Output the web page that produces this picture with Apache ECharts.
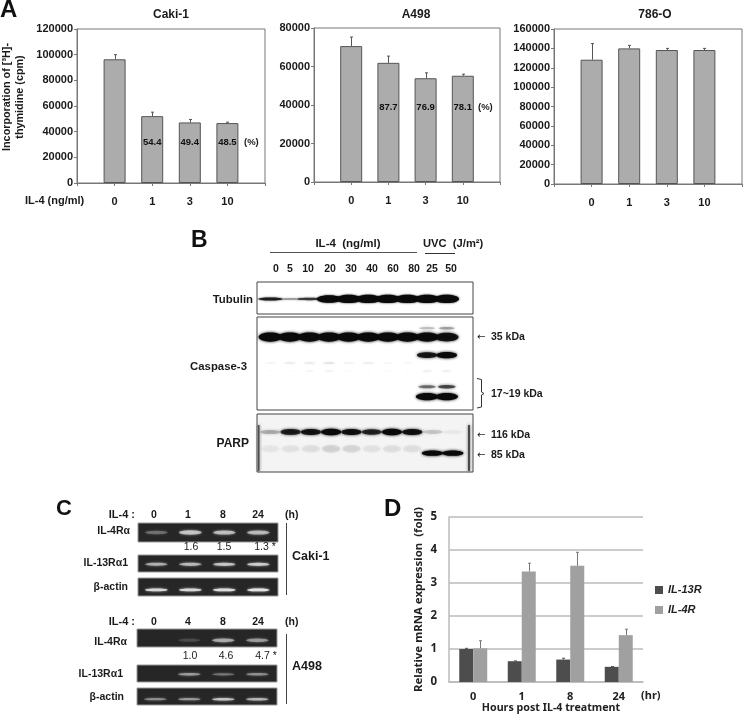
<!DOCTYPE html>
<html><head><meta charset="utf-8">
<style>html,body{margin:0;padding:0;background:#fff}#c{width:745px;height:715px}</style>
<script src="https://cdn.jsdelivr.net/npm/echarts@6/dist/echarts.min.js"></script>
</head><body><div id="c"></div>
<script>
// ---------- Panel A data ----------
const doseLabels = ['', '0', '1', '3', '10', ''];
const cakiValues = [96400, 52100, 47200, 46700];
const cakiErrTop = [100000, 55200, 49500, 47400];
const cakiPercent = ['', '54.4', '49.4', '48.5'];
const a498Values = [70600, 61900, 53900, 55200];
const a498ErrTop = [75300, 65400, 56700, 56000];
const a498Percent = ['', '87.7', '76.9', '78.1'];
const o786Values = [128300, 140000, 138300, 138300];
const o786ErrTop = [144900, 143100, 140000, 140000];
// ---------- Panel D data ----------
const hourLabels = ['0', '1', '8', '24'];
const il13rValues = [1.0, 0.63, 0.68, 0.46];
const il13rErrTop = [1.02, 0.64, 0.72, 0.47];
const il4rValues = [1.02, 3.35, 3.52, 1.42];
const il4rErrTop = [1.25, 3.6, 3.93, 1.6];
// ---------- Panel B band intensities per lane ----------
const tubulinMain = [.5, .22, .4, .95, 1, 1, 1, 1, 1, 1];
const casp35 = [1, 1, 1, 1, 1, 1, 1, 1, .95, .9];
const caspUpper = [0, 0, 0, 0, 0, 0, 0, 0, .18, .28];
const caspMid = [0, 0, 0, 0, 0, 0, 0, 0, .85, 1];
const caspFaint1 = [.05, .1, .1, .14, .06, .09, .04, .04, 0, 0];
const caspFaint2 = [.02, .02, .05, .07, .02, .02, .02, .02, .08, .08];
const caspCleaved1 = [0, 0, 0, 0, 0, 0, 0, 0, .45, .6];
const caspCleaved2 = [0, 0, 0, 0, 0, 0, 0, 0, 1, 1];
const parp116 = [.2, .8, .88, 1, .9, .75, 1, .9, .12, .03];
const parpSmear = [.03, .04, .05, .08, .07, .04, .05, .05, 0, 0];
const parp85 = [0, 0, 0, 0, 0, 0, 0, 0, 1, 1];
// ---------- Panel C band intensities per lane ----------
const cakiIL4R = [.25, .65, .6, .58];
const cakiIL13R = [.55, .6, .68, .72];
const cakiActin = [.85, .85, .9, 1];
const a498IL4R = [0, .12, .5, .42];
const a498IL13R = [0, .45, .3, .4];
const a498Actin = [.4, .45, .7, .6];

const FONT = '"Liberation Sans", Arial, sans-serif';
const FONT2 = '"Noto Sans", "Open Sans", sans-serif';
const grids = [], xAxes = [], yAxes = [], series = [], graphics = [];

function text(t, x, y, o) {
  o = o || {};
  graphics.push({
    type: 'text', x, y, silent: true, rotation: o.rotation || 0,
    style: {
      text: t, fill: o.color || '#1a1a1a', font: (o.style || '') + ' ' + (o.weight || 'bold') + ' ' + (o.size || 10.5) + 'px ' + (o.family || FONT),
      textAlign: o.align || 'left', textVerticalAlign: 'middle'
    }
  });
}
function line(points, color, w) {
  graphics.push({ type: 'polyline', silent: true, shape: { points }, style: { stroke: color || '#444', lineWidth: w || 1, fill: null } });
}

function errorSeries(idx, offsetPx, data, color) {
  return {
    type: 'custom', xAxisIndex: idx, yAxisIndex: idx, silent: true, z: 5,
    data, encode: { x: 0, y: [1, 2] },
    renderItem(params, api) {
      const b = api.coord([api.value(0), api.value(1)]);
      const t = api.coord([api.value(0), api.value(2)]);
      const x = Math.round(b[0] + offsetPx) + 0.5;
      const s = { stroke: color, lineWidth: 1, fill: null };
      return { type: 'group', children: [
        { type: 'line', shape: { x1: x, y1: b[1], x2: x, y2: t[1] }, style: s },
        { type: 'line', shape: { x1: x - 1.5, y1: t[1], x2: x + 1.5, y2: t[1] }, style: s }
      ] };
    }
  };
}

function panelA(rect, max, step, values, errTop, percent, pctDist) {
  const i = grids.length;
  grids.push(Object.assign({ show: true, backgroundColor: '#fff', borderColor: '#777', borderWidth: 1 }, rect));
  xAxes.push({
    gridIndex: i, type: 'category', boundaryGap: false, data: doseLabels,
    axisLine: { lineStyle: { color: '#777' } }, axisTick: { show: true, length: 3, inside: false, lineStyle: { color: '#777' }, alignWithLabel: true },
    axisLabel: { interval: 0, margin: 13, color: '#1a1a1a', fontFamily: FONT, fontWeight: 'bold', fontSize: 11 }, splitLine: { show: false }
  });
  yAxes.push({
    gridIndex: i, type: 'value', min: 0, max, interval: step,
    axisLine: { show: true, lineStyle: { color: '#777' } }, axisTick: { show: true, length: 3, lineStyle: { color: '#777' } },
    axisLabel: { margin: 4, color: '#1a1a1a', fontFamily: FONT, fontWeight: 'bold', fontSize: 11, formatter: v => String(v) }, splitLine: { show: false }
  });
  series.push({
    type: 'bar', xAxisIndex: i, yAxisIndex: i, barWidth: 22, silent: true,
    data: values.map((v, k) => ({ value: [k + 1, v] })),
    itemStyle: { color: '#acacac', borderColor: '#555', borderWidth: 1 },
    label: percent ? {
      show: true, position: 'insideBottom', distance: pctDist, color: '#111', fontFamily: FONT, fontWeight: 'bold', fontSize: 9.5,
      formatter: p => percent[p.dataIndex]
    } : { show: false }
  });
  series.push(errorSeries(i, 0, errTop.map((t, k) => [k + 1, values[k], t]), '#555'));
  return i;
}

panelA({ left: 77, top: 29, width: 188, height: 154 }, 120000, 20000, cakiValues, cakiErrTop, cakiPercent, 36);
panelA({ left: 314, top: 28, width: 186, height: 154 }, 80000, 20000, a498Values, a498ErrTop, a498Percent, 70);
panelA({ left: 554, top: 29, width: 190, height: 155 }, 160000, 20000, o786Values, o786ErrTop, null, 0);

// Panel D
(function () {
  const i = grids.length;
  grids.push({ left: 449, top: 517, width: 194, height: 165 });
  xAxes.push({
    gridIndex: i, type: 'category', data: hourLabels,
    axisLine: { lineStyle: { color: '#bbb', width: 1.5 } }, axisTick: { show: false },
    axisLabel: { margin: 9, color: '#222', fontFamily: FONT2, fontWeight: 'bold', fontSize: 11 }
  });
  yAxes.push({
    gridIndex: i, type: 'value', min: 0, max: 5, interval: 1,
    axisLine: { show: true, lineStyle: { color: '#bbb', width: 1.5 } }, axisTick: { show: false },
    axisLabel: { margin: 12, color: '#222', fontFamily: FONT2, fontWeight: 'bold', fontSize: 11.5 },
    splitLine: { lineStyle: { color: '#bbb', width: 1.5 } },
    name: 'Relative mRNA expression  (fold)', nameLocation: 'middle', nameGap: 25, nameRotate: 90,
    nameTextStyle: { color: '#222', fontFamily: FONT2, fontWeight: 'bold', fontSize: 11.4 }
  });
  series.push({ name: 'IL-13R', type: 'bar', xAxisIndex: i, yAxisIndex: i, barWidth: 14, barGap: '0%', data: il13rValues, itemStyle: { color: '#4d4d4d' }, silent: true });
  series.push({ name: 'IL-4R', type: 'bar', xAxisIndex: i, yAxisIndex: i, barWidth: 14, barGap: '0%', data: il4rValues, itemStyle: { color: '#a0a0a0' }, silent: true });
  series.push(errorSeries(i, -7, il13rErrTop.map((t, k) => [k, il13rValues[k], t]), '#555'));
  series.push(errorSeries(i, 7, il4rErrTop.map((t, k) => [k, il4rValues[k], t]), '#777'));
})();

// Blot / gel panels
function blot(rect, bg, border, laneMin, laneMax, rows, bandColor, blur) {
  const i = grids.length;
  grids.push(Object.assign({ show: true, backgroundColor: bg, borderColor: border, borderWidth: 1 }, rect));
  xAxes.push({ gridIndex: i, type: 'value', min: laneMin, max: laneMax, show: false });
  yAxes.push({ gridIndex: i, type: 'value', min: 0, max: 100, inverse: true, show: false });
  rows.forEach(r => {
    series.push({
      type: 'custom', xAxisIndex: i, yAxisIndex: i, silent: true, clip: true, z: 3,
      data: r.lanes.map((v, k) => [k, r.y, v]).filter(d => d[2] > 0),
      encode: { x: 0, y: 1 },
      renderItem(params, api) {
        const p = api.coord([api.value(0), api.value(1)]);
        const s = api.size([r.w, r.h]);
        const v = api.value(2);
        const hh = s[1] * (r.thin ? 0.15 + 0.85 * v * v : (r.flat ? 1 : 0.55 + 0.45 * v));
        const alpha = Math.min(1, v * (r.gain || 1));
        return {
          type: 'ellipse',
          shape: { cx: p[0], cy: p[1], rx: s[0] / 2, ry: hh / 2 },
          style: { fill: bandColor, opacity: alpha, shadowBlur: blur, shadowColor: bandColor }
        };
      }
    });
  });
}

blot({ left: 257, top: 282, width: 216, height: 32 }, '#fff', '#444', -.68, 10.34, [
  { lanes: tubulinMain, y: 53, w: 1.25, h: 26, thin: true, gain: 1.6 }
], '#0a0a0a', 2);
blot({ left: 257, top: 317, width: 216, height: 93 }, '#fff', '#444', -.68, 10.34, [
  { lanes: casp35, y: 21.6, w: 1.2, h: 10 },
  { lanes: caspUpper, y: 12, w: .8, h: 4 },
  { lanes: caspMid, y: 41, w: 1.05, h: 6.5 },
  { lanes: caspFaint1, y: 49.5, w: .6, h: 2 },
  { lanes: caspFaint2, y: 58, w: .5, h: 2 },
  { lanes: caspCleaved1, y: 75, w: .9, h: 4.5 },
  { lanes: caspCleaved2, y: 85.6, w: 1.15, h: 8 }
], '#0a0a0a', 3);
blot({ left: 257, top: 414, width: 216, height: 58 }, '#f4f4f4', '#444', -.66, 10, [
  { lanes: parp116, y: 31, w: 1, h: 11 },
  { lanes: parpSmear, y: 60, w: .9, h: 22 },
  { lanes: parp85, y: 67.5, w: 1.05, h: 9, flat: true }
], '#0a0a0a', 3);
// dark gel edges of the PARP membrane
[[258, 1.5], [468, 2]].forEach(e => graphics.push({
  type: 'rect', silent: true, z: 4, shape: { x: e[0], y: 425, width: e[1], height: 46 },
  style: { fill: '#333', opacity: .8, shadowBlur: 3, shadowColor: '#333' }
}));
const C_BG = '#262626', C_BAND = '#e4e4e4';
const cMin = -.54, cMax = 3.58;
[
  [{ left: 138, top: 523, width: 140, height: 19 }, cakiIL4R, 50, 27],
  [{ left: 138, top: 555, width: 140, height: 17 }, cakiIL13R, 55, 22],
  [{ left: 138, top: 578, width: 140, height: 18 }, cakiActin, 66, 16],
  [{ left: 137, top: 629, width: 140, height: 18 }, a498IL4R, 63, 28],
  [{ left: 137, top: 665, width: 140, height: 17 }, a498IL13R, 55, 20],
  [{ left: 137, top: 688, width: 140, height: 17 }, a498Actin, 66, 18]
].forEach(g => blot(g[0], C_BG, '#999', cMin, cMax, [{ lanes: g[1], y: g[2], w: .66, h: g[3] }], C_BAND, 2.5));

// ---------- Text and decorations ----------
text('A', 0, 10, { size: 24, color: '#111' });
text('B', 191, 241, { size: 23, color: '#111' });
text('C', 56, 509, { size: 22, color: '#111' });
text('D', 384, 509, { size: 24, color: '#111' });
text('IL-4 (ng/ml)', 25, 201, { size: 11 });
text('(%)', 244, 142, { size: 9.5 });
text('(%)', 478, 107, { size: 9.5 });
text('Incorporation of [³H]-', 7, 97, { rotation: Math.PI / 2, align: 'center', size: 10.8 });
text('thymidine (cpm)', 20, 97, { rotation: Math.PI / 2, align: 'center', size: 10.8 });

text('IL-4  (ng/ml)', 348, 244, { align: 'center', size: 11.5 });
text('UVC  (J/m²)', 423, 244, { size: 11.2 });
line([[270, 252.5], [417, 252.5]], '#555');
line([[425, 253.5], [455, 253.5]], '#333');
const b_laneText = ['0', '5', '10', '20', '30', '40', '60', '80', '25', '50'];
const b_laneX = [276, 290, 308, 330, 351, 372, 393, 414, 432, 451];
b_laneText.forEach((t, k) => text(t, b_laneX[k], 269, { align: 'center', size: 10.5 }));
text('Tubulin', 253, 300, { align: 'right', size: 11.4 });
text('Caspase-3', 247, 367, { align: 'right', size: 11.4 });
text('PARP', 249, 444, { align: 'right', size: 12 });
[['35 kDa', 337], ['116 kDa', 435], ['85 kDa', 455]].forEach(a => {
  text('←', 477, a[1], { size: 10, weight: 'normal', family: '"DejaVu Sans"' });
  text(a[0], 491, a[1], { size: 10.5 });
});
text('17~19 kDa', 491, 394, { size: 10.5 });
line([[477, 378.5], [481.5, 379.5], [481.5, 392], [484, 393.5], [481.5, 395], [481.5, 407], [477, 408]], '#333');

function cHeader(y, labels) {
  text('IL-4 :', 135, y, { align: 'right', size: 11 });
  [154, 188, 223, 258].forEach((x, k) => text(labels[k], x, y, { align: 'center', size: 10.5 }));
  text('(h)', 285, y, { size: 10.5 });
}
cHeader(515, ['0', '1', '8', '24']);
cHeader(622, ['0', '4', '8', '24']);
text('IL-4Rα', 130, 531, { align: 'right' });
text('IL-13Rα1', 128, 563, { align: 'right' });
text('β-actin', 128, 587, { align: 'right' });
text('IL-4Rα', 127, 642, { align: 'right' });
text('IL-13Rα1', 123, 674, { align: 'right' });
text('β-actin', 124, 697, { align: 'right' });
[['1.6', 191], ['1.5', 224], ['1.3 *', 265]].forEach(a => text(a[0], a[1], 547, { align: 'center', weight: 'normal', size: 10.5 }));
[['1.0', 190], ['4.6', 226], ['4.7 *', 266]].forEach(a => text(a[0], a[1], 656, { align: 'center', weight: 'normal', size: 10.5 }));
line([[286.5, 523], [286.5, 595]], '#444');
line([[286.5, 634], [286.5, 704]], '#444');
text('Caki-1', 292, 557, { size: 12.5 });
text('A498', 292, 667, { size: 12.5 });

text('(hr)', 641, 696, { family: FONT2, size: 11, color: '#222' });
text('Hours post IL-4 treatment', 551, 708, { align: 'center', family: FONT2, size: 10.7, color: '#222' });

const option = {
  backgroundColor: '#fff', animation: false,
  title: [
    { text: 'Caki-1', left: 166, top: 4, textAlign: 'center', textStyle: { fontFamily: FONT, fontSize: 12, fontWeight: 'bold', color: '#1a1a1a' } },
    { text: 'A498', left: 411, top: 4, textAlign: 'center', textStyle: { fontFamily: FONT, fontSize: 12, fontWeight: 'bold', color: '#1a1a1a' } },
    { text: '786-O', left: 650, top: 4, textAlign: 'center', textStyle: { fontFamily: FONT, fontSize: 12, fontWeight: 'bold', color: '#1a1a1a' } }
  ],
  legend: {
    data: ['IL-13R', 'IL-4R'], orient: 'vertical', left: 655, top: 583, itemWidth: 8, itemHeight: 8, itemGap: 6, icon: 'rect', selectedMode: false, padding: 0,
    textStyle: { fontFamily: FONT, fontStyle: 'italic', fontWeight: 'bold', fontSize: 11, color: '#222', lineHeight: 14 }
  },
  grid: grids, xAxis: xAxes, yAxis: yAxes, series, graphic: graphics
};
const chart = echarts.init(document.getElementById('c'), null, { renderer: 'canvas' });
chart.setOption(option);
</script></body></html>
